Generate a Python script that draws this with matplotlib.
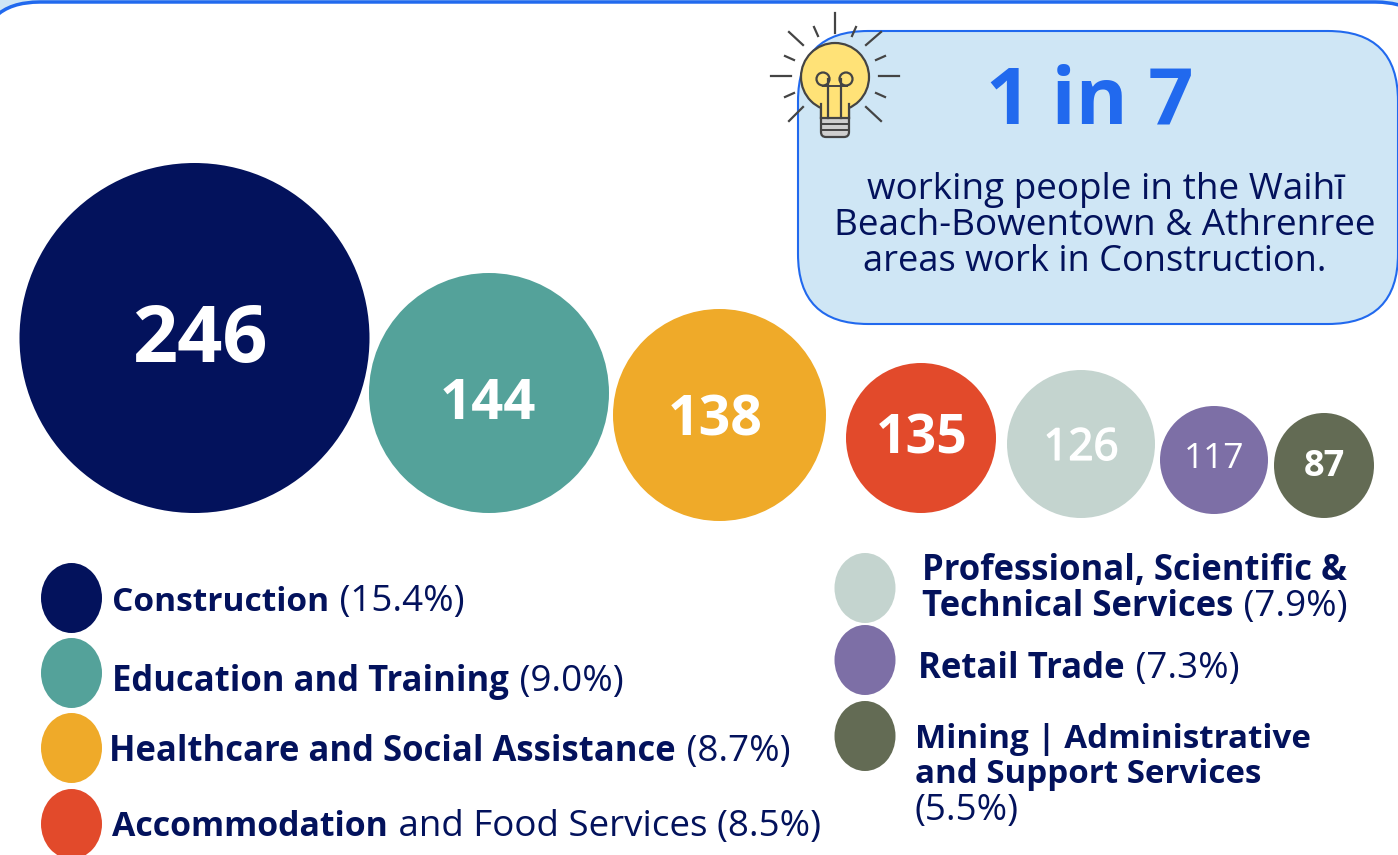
import matplotlib
matplotlib.use('Agg')
import matplotlib.pyplot as plt
from matplotlib.patches import Circle, Ellipse, FancyBboxPatch, Rectangle, Polygon
import matplotlib.patheffects as pe

# values
counts = [246, 144, 138, 135, 126, 117, 87]
colors = ['#03125c', '#54a29a', '#efaa29', '#e24a2b', '#c4d4cf', '#7d6fa6', '#636b54']
legend_bold = [['Construction'], ['Education and Training'], ['Healthcare and Social Assistance'],
               ['Accommodation'], ['Professional, Scientific &', 'Technical Services'], ['Retail Trade'],
               ['Mining | Administrative', 'and Support Services']]
legend_rest = [' (15.4%)', ' (9.0%)', ' (8.7%)', ' and Food Services (8.5%)', ' (7.9%)', ' (7.3%)', '(5.5%)']
callout_big = '1 in 7'
callout_lines = ['working people in the Waihī', 'Beach-Bowentown & Athrenree', 'areas work in Construction.']

# layout in pixels of the reference
bubble_x = [194.5, 489, 719.5, 921, 1081, 1214, 1324]
bubble_y = [338, 393, 415, 438, 444, 460, 465.5]
bubble_w = [350, 240, 213, 150, 148, 108, 100]
bubble_h = [350, 240, 212, 150, 148, 108, 105]
number_x = [200, 488, 715, 922, 1081, 1214, 1324]
number_y = [332, 398, 414, 433, 443, 455, 462]
number_size = [57, 40.5, 40, 38.5, 31.5, 25.5, 26]
number_weight = ['bold', 'bold', 'bold', 'bold', 'normal', 'normal', 'bold']
number_stroke = [0, 0, 0, 0, 1.2, 0, 0]
dot_x = [71.5, 71.5, 71.5, 71.5, 865, 865, 865]
dot_y = [598, 673, 748, 824, 588, 660, 736]
text_x = [112, 112, 109, 112, 922, 918, 915]
text_y = [[611], [691], [761], [836], [580, 616], [678], [748, 783]]
bold_size = [24.1, 24.9, 24.9, 24.4, 24.9, 25, 23.9]

NAVY = '#03125c'
BLUE = '#2169ee'
GREY = '#444444'
TEXT_FONT = 'Open Sans'

fig = plt.figure(figsize=(13.98, 8.55), dpi=100)
ax = fig.add_axes([0, 0, 1, 1])
ax.set_xlim(0, 1398)
ax.set_ylim(855, 0)
ax.axis('off')

# outer card, runs off the canvas on both sides
ax.add_patch(Rectangle((0, 0), 1398, 855, fc='#cfe6f5', ec='none', zorder=0))
ax.add_patch(FancyBboxPatch((40, 62), 1335, 900, boxstyle='round,pad=60,rounding_size=60', fc='white',
                            ec=BLUE, lw=2.5, zorder=1))

# callout
ax.add_patch(FancyBboxPatch((868, 101), 460, 153, boxstyle='round,pad=70,rounding_size=70', fc='#cfe6f5',
                            ec=BLUE, lw=1.5, zorder=2))
ax.text(1090, 124, callout_big, color=BLUE, fontsize=57, fontweight='bold', family=TEXT_FONT, ha='center',
        va='baseline', zorder=3)
for line, cx, by, fs in zip(callout_lines, [1106, 1105, 1095], [199, 235, 271], [26.6, 26.6, 26.1]):
    ax.text(cx, by, line, color=NAVY, fontsize=fs, family=TEXT_FONT, ha='center', va='baseline', zorder=3)

# bulb
for x0, y0, x1, y1 in [(835, 13, 835, 33), (789, 32, 803, 45), (881, 32, 866, 45), (771, 76, 791, 76),
                       (879, 76, 899, 76), (789, 121, 803, 107), (881, 121, 866, 107), (814, 27, 818, 36),
                       (856, 27, 852, 36), (785, 56, 794, 60), (885, 56, 876, 60), (785, 97, 794, 93),
                       (885, 97, 876, 93)]:
    ax.plot([x0, x1], [y0, y1], color=GREY, lw=1.6, zorder=4)
ax.add_patch(FancyBboxPatch((824, 108), 22, 26, boxstyle='round,pad=3,rounding_size=5', fc='#cfcfcf', ec=GREY,
                            lw=1.6, zorder=4))
ax.add_patch(Circle((835, 77), 34, fc='#ffe277', ec=GREY, lw=1.6, zorder=5))
ax.add_patch(Polygon([[821, 100], [849, 100], [849, 118], [821, 118]], fc='#ffe277', ec='none', zorder=6))
ax.plot([821, 821], [104, 118], color=GREY, lw=1.6, zorder=7)
ax.plot([849, 849], [104, 118], color=GREY, lw=1.6, zorder=7)
ax.plot([821, 849], [118, 118], color=GREY, lw=1.6, zorder=7)
ax.plot([821, 849], [124, 124], color=GREY, lw=1.4, zorder=7)
ax.plot([821, 849], [130, 130], color=GREY, lw=1.4, zorder=7)
ax.plot([828, 828], [79, 118], color=GREY, lw=1.6, zorder=7)
ax.plot([841, 841], [79, 118], color=GREY, lw=1.6, zorder=7)
ax.plot([823, 847], [86, 86], color=GREY, lw=1.4, zorder=7)
ax.add_patch(Circle((823, 79), 6.5, fc='none', ec=GREY, lw=1.6, zorder=7))
ax.add_patch(Circle((846, 79), 6.5, fc='none', ec=GREY, lw=1.6, zorder=7))

# bubbles
for n, c, x, y, w, h, nx, ny, fs, fw, st in zip(counts, colors, bubble_x, bubble_y, bubble_w, bubble_h, number_x,
                                                number_y, number_size, number_weight, number_stroke):
    ax.add_patch(Ellipse((x, y), w, h, fc=c, ec='none', zorder=3))
    t = ax.text(nx, ny, str(n), color='white', fontsize=fs, fontweight=fw, family=TEXT_FONT,
                ha='center', va='center_baseline', zorder=4)
    if st > 0:
        t.set_path_effects([pe.withStroke(linewidth=st, foreground='white')])

# legend
fig.canvas.draw()
renderer = fig.canvas.get_renderer()
for i, c in enumerate(colors):
    ax.add_patch(Ellipse((dot_x[i], dot_y[i]), 61, 70, fc=c, ec='none', zorder=3))
    t = None
    for line, by in zip(legend_bold[i], text_y[i]):
        t = ax.text(text_x[i], by, line, color=NAVY, fontsize=bold_size[i], fontweight='bold', family=TEXT_FONT,
                    ha='left', va='baseline', zorder=4)
    if legend_rest[i].startswith(' '):
        bb = t.get_window_extent(renderer)
        ax.text(text_x[i] + bb.width + 1, text_y[i][-1], legend_rest[i], color=NAVY, fontsize=26.5, family=TEXT_FONT,
                ha='left', va='baseline', zorder=4)
    else:
        ax.text(text_x[i], text_y[i][-1] + 37, legend_rest[i], color=NAVY, fontsize=26.5, family=TEXT_FONT,
                ha='left', va='baseline', zorder=4)

fig.savefig('out.png', dpi=100)
